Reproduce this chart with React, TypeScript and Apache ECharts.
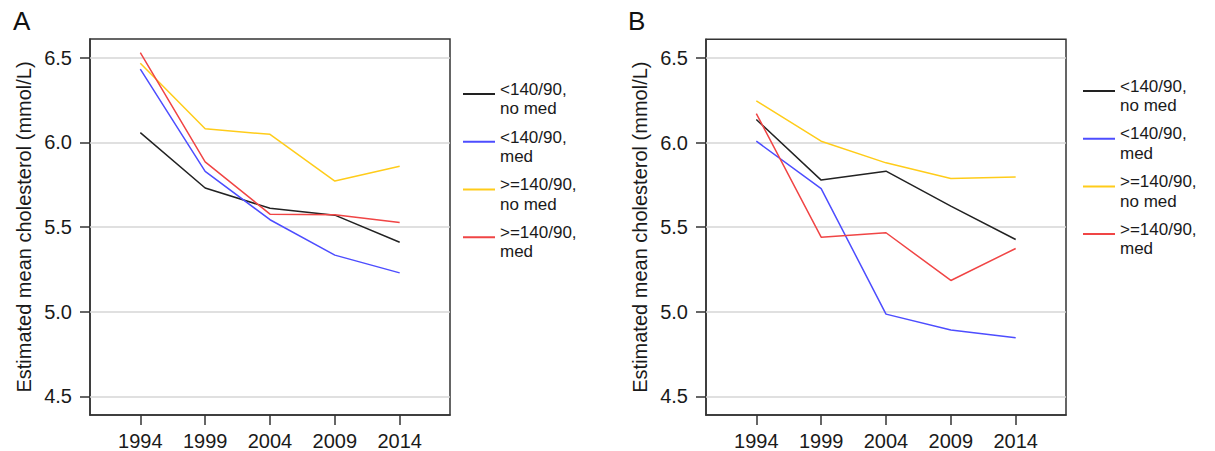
import React, { useEffect, useRef } from "react";
import * as echarts from "echarts";

const years = [1994, 1999, 2004, 2009, 2014];
const seriesNames = ["<140/90, no med", "<140/90, med", ">=140/90, no med", ">=140/90, med"];
const colors = ["#222222", "#4d4dff", "#ffcc1a", "#f04545"];

const panelA_noMedLow = [6.057, 5.73, 5.611, 5.57, 5.41];
const panelA_medLow = [6.432, 5.828, 5.543, 5.334, 5.229];
const panelA_noMedHigh = [6.467, 6.08, 6.047, 5.771, 5.859];
const panelA_medHigh = [6.529, 5.885, 5.576, 5.572, 5.527];

const panelB_noMedLow = [6.136, 5.778, 5.831, 5.624, 5.427];
const panelB_medLow = [6.008, 5.728, 4.986, 4.892, 4.846];
const panelB_noMedHigh = [6.246, 6.008, 5.88, 5.787, 5.797];
const panelB_medHigh = [6.171, 5.441, 5.467, 5.185, 5.374];

const yTicks = [4.5, 5.0, 5.5, 6.0, 6.5];
const yTitle = "Estimated mean cholesterol (mmol/L)";

const panelAData = [panelA_noMedLow, panelA_medLow, panelA_noMedHigh, panelA_medHigh];
const panelBData = [panelB_noMedLow, panelB_medLow, panelB_noMedHigh, panelB_medHigh];

const FONT = "Liberation Sans, Arial, sans-serif";

export default function App() {
  const ref = useRef<HTMLDivElement>(null);
  useEffect(() => {
    document.body.style.margin = "0";
    if (!ref.current) return;
    const chart = echarts.init(ref.current, null, { renderer: "svg" });

    const grids = [
      { left: 90, top: 39, width: 360, height: 379.3 },
      { left: 706, top: 39.3, width: 360, height: 375.7 },
    ];

    const xAxis = grids.map((_, i) => ({
      type: "value",
      gridIndex: i,
      min: 1990.12,
      max: 2017.88,
      axisLine: { show: true, lineStyle: { color: "#333", width: 1.5 } },
      axisTick: { show: true, length: 10, customValues: years, lineStyle: { color: "#333", width: 1.5 } },
      axisLabel: {
        customValues: years,
        margin: 16,
        fontSize: 20,
        color: "#1a1a1a",
        fontFamily: FONT,
        formatter: (v: number) => String(Math.round(v)),
      },
      splitLine: { show: false },
    }));

    const yAxis = grids.map((_, i) => ({
      type: "value",
      gridIndex: i,
      min: 4.39,
      max: 6.61,
      name: yTitle,
      nameLocation: "middle",
      nameGap: 56,
      nameTextStyle: { fontSize: 20, color: "#1a1a1a", fontFamily: FONT },
      axisLine: { show: true, lineStyle: { color: "#333", width: 1.5 } },
      axisTick: { show: true, length: 10, customValues: yTicks, lineStyle: { color: "#333", width: 1.5 } },
      axisLabel: {
        customValues: yTicks,
        margin: 18,
        fontSize: 20,
        color: "#1a1a1a",
        fontFamily: FONT,
        formatter: (v: number) => v.toFixed(1),
      },
      splitLine: { show: false },
    }));

    const makeSeries = (data: number[][], idx: number) =>
      data.map((vals, k) => ({
        type: "line",
        name: seriesNames[k],
        xAxisIndex: idx,
        yAxisIndex: idx,
        data: years.map((y, j) => [y, vals[j]]),
        showSymbol: false,
        symbol: "none",
        lineStyle: { color: colors[k], width: 1.5 },
        itemStyle: { color: colors[k] },
        z: 3,
        markLine:
          k === 0
            ? {
                silent: true,
                symbol: ["none", "none"],
                label: { show: false },
                lineStyle: { color: "#d6d6d6", type: "solid", width: 1.5 },
                data: yTicks.map((t) => ({ yAxis: t })),
                z: 1,
              }
            : undefined,
      }));

    const icon = "path://M0,0L32,0L32,2L0,2Z M0,11.99L0.01,12L0,12Z";
    const legendCommon = {
      orient: "vertical",
      icon,
      padding: 0,
      itemWidth: 32,
      itemHeight: 12,
      itemGap: 8.5,
      selectedMode: false,
      itemStyle: { borderWidth: 0 },
      textStyle: { fontSize: 17, lineHeight: 19.6, color: "#1a1a1a", fontFamily: FONT },
      formatter: (n: string) => n.replace(", ", ",\n"),
      data: seriesNames,
    };

    chart.setOption({
      animation: false,
      grid: grids.map((g) => ({ ...g, show: true, borderColor: "#333", borderWidth: 1.5, backgroundColor: "transparent" })),
      xAxis,
      yAxis,
      legend: [
        { ...legendCommon, left: 463, top: 79.5 },
        { ...legendCommon, left: 1083, top: 76.4 },
      ],
      graphic: [
        { type: "text", left: 13, top: 8, style: { text: "A", fontSize: 26, fill: "#111", fontFamily: FONT } },
        { type: "text", left: 628, top: 8, style: { text: "B", fontSize: 26, fill: "#111", fontFamily: FONT } },
      ],
      series: [...makeSeries(panelAData, 0), ...makeSeries(panelBData, 1)],
    });
    return () => chart.dispose();
  }, []);
  return <div ref={ref} style={{ width: 1215, height: 451 }} />;
}
